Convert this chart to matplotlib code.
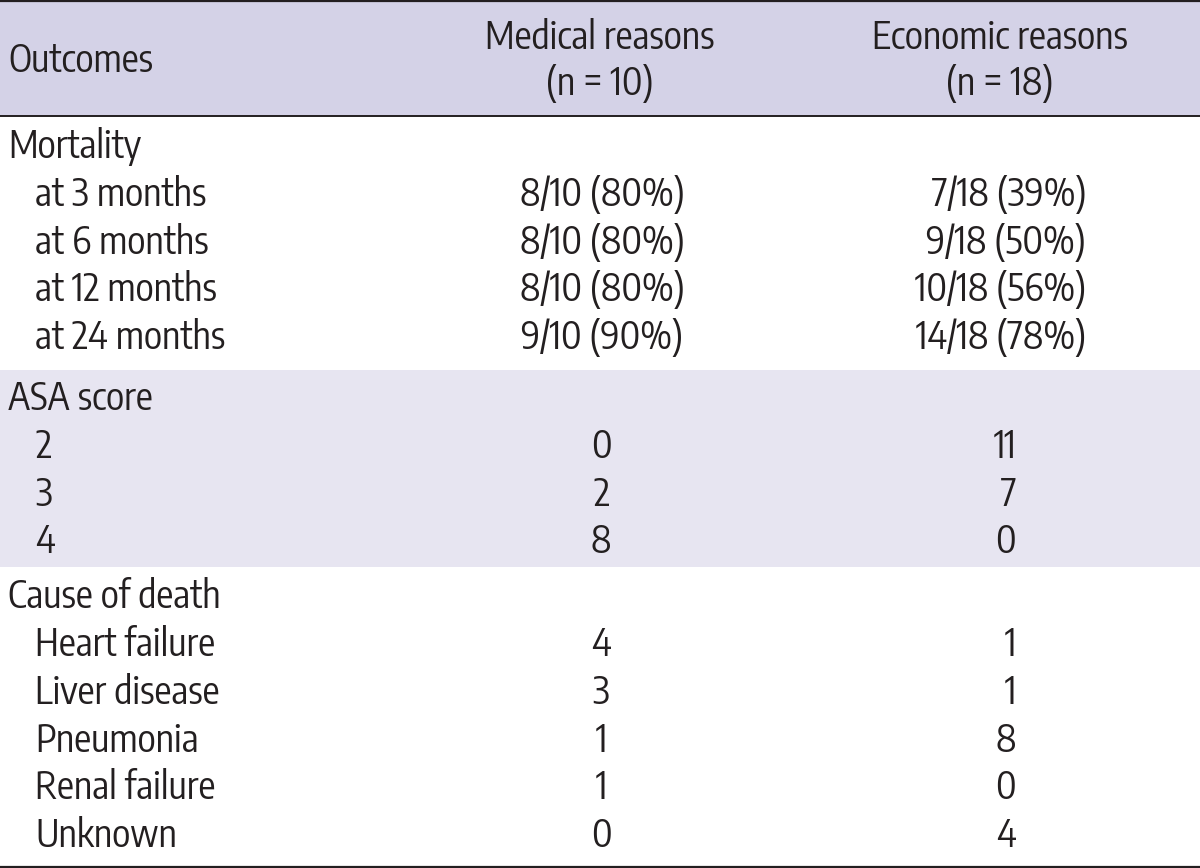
import matplotlib
matplotlib.use("Agg")
import matplotlib.pyplot as plt
from matplotlib.patches import Rectangle
from matplotlib.textpath import TextPath
from matplotlib.font_manager import FontProperties

FONT = ['Encode Sans Condensed', 'Roboto Condensed', 'DejaVu Sans']
plt.rcParams['font.family'] = FONT

header_label = "Outcomes"
col_headers = [["Medical reasons", "(n = 10)"], ["Economic reasons", "(n = 18)"]]

sections = ["Mortality", "ASA score", "Cause of death"]
mortality_rows = ["at 3 months", "at 6 months", "at 12 months", "at 24 months"]
mortality_medical = ["8/10 (80%)", "8/10 (80%)", "8/10 (80%)", "9/10 (90%)"]
mortality_economic = ["7/18 (39%)", "9/18 (50%)", "10/18 (56%)", "14/18 (78%)"]

asa_rows = ["2", "3", "4"]
asa_medical = [0, 2, 8]
asa_economic = [11, 7, 0]

cause_rows = ["Heart failure", "Liver disease", "Pneumonia", "Renal failure", "Unknown"]
cause_medical = [4, 3, 1, 1, 0]
cause_economic = [1, 1, 8, 0, 4]

W, H = 1200, 868
DPI = 100
fig = plt.figure(figsize=(W / DPI, H / DPI), dpi=DPI)
ax = fig.add_axes([0, 0, 1, 1])
ax.set_xlim(0, W)
ax.set_ylim(H, 0)
ax.axis('off')

# font size chosen so that capital height is ~28 px
WEIGHT = 'normal'
_fp = FontProperties(family=FONT, size=100, weight=WEIGHT)
_cap = TextPath((0, 0), "M", prop=_fp).get_extents().height / 100.0
fs = 28.0 / (_cap * DPI / 72.0)

txt = '#231f20'
kw = dict(fontsize=fs, color=txt, va='baseline', weight=WEIGHT)

# bands
ax.add_patch(Rectangle((0, 0), W, 116, color='#d4d2e7', zorder=0, lw=0))
ax.add_patch(Rectangle((0, 370), W, 197, color='#e7e5f1', zorder=0, lw=0))
# rules
ax.plot([0, W], [1.2, 1.2], color='#231f20', lw=1.6, solid_capstyle='butt')
ax.plot([0, W], [116, 116], color='#231f20', lw=1.4, solid_capstyle='butt')
ax.plot([0, W], [866.8, 866.8], color='#231f20', lw=1.6, solid_capstyle='butt')

# header
ax.text(8, 72, header_label, ha='left', **kw)
for xc, (l1, l2) in zip([600, 1000], col_headers):
    ax.text(xc, 49, l1, ha='center', **kw)
    ax.text(xc, 95, l2, ha='center', **kw)

x_label, x_indent = 8, 35
med_center = 602
eco_right = 1086
eco_num_right = 1016
med_num_center = 601

def sec(y, name):
    ax.text(x_label, y, name, ha='left', **kw)

def row(y, lab, med, eco, numeric):
    ax.text(x_indent, y, lab, ha='left', **kw)
    if numeric:
        ax.text(med_num_center, y, str(med), ha='center', **kw)
        ax.text(eco_num_right, y, str(eco), ha='right', **kw)
    else:
        ax.text(med_center, y, med, ha='center', **kw)
        ax.text(eco_right, y, eco, ha='right', **kw)

step = 47.6
sec(158.5, sections[0])
for i, (l, m, e) in enumerate(zip(mortality_rows, mortality_medical, mortality_economic)):
    row(206 + i * step, l, m, e, False)

sec(410, sections[1])
for i, (l, m, e) in enumerate(zip(asa_rows, asa_medical, asa_economic)):
    row(458 + i * step, l, m, e, True)

sec(608, sections[2])
for i, (l, m, e) in enumerate(zip(cause_rows, cause_medical, cause_economic)):
    row(656.5 + i * step, l, m, e, True)

fig.savefig('out.png', dpi=DPI)
